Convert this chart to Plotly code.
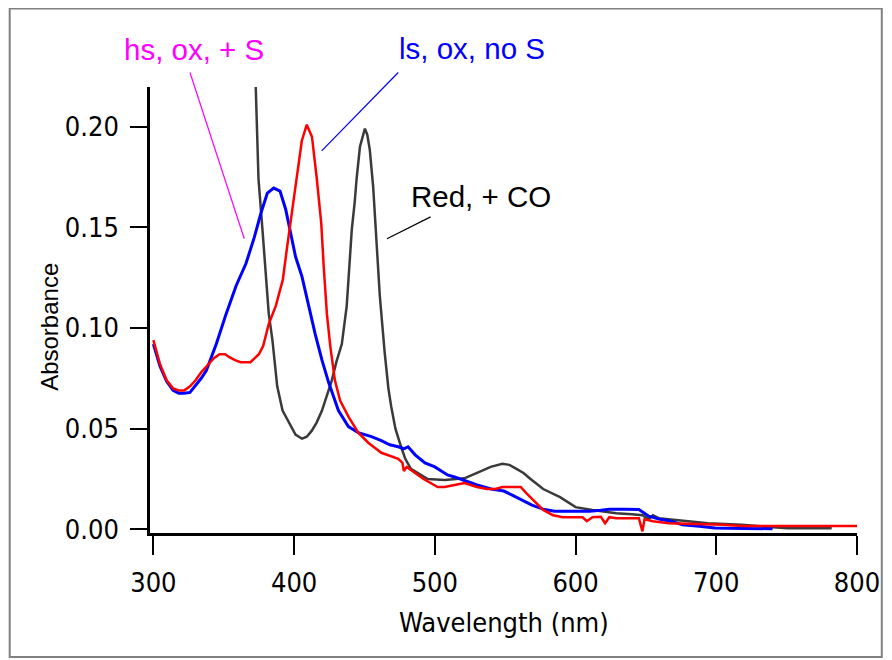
import plotly.graph_objects as go

# ---------------- data ----------------
blue_nm = [300, 304.7, 309.4, 314, 318, 322, 326, 330.6, 334, 337.7, 344.7, 351.7, 358.8,
           365.8, 371.7, 376.4, 381, 385.5, 390, 394, 397.6, 401, 405.6, 410, 415, 419.8,
           424.5, 431.5, 438.6, 445.6, 455, 462, 468, 474, 478, 481, 486, 493, 500, 509,
           514, 522, 530, 540, 549, 555, 561, 569, 577, 585, 600, 610, 618, 624, 635, 645,
           652, 660, 668, 676, 688, 699, 720, 740]
blue_abs = [0.092, 0.081, 0.0735, 0.069, 0.0676, 0.0676, 0.068, 0.0717, 0.075, 0.079, 0.092,
            0.107, 0.121, 0.132, 0.145, 0.157, 0.167, 0.1695, 0.168, 0.159, 0.147, 0.1355,
            0.1255, 0.112, 0.097, 0.084, 0.073, 0.059, 0.051, 0.048, 0.046, 0.044, 0.042,
            0.041, 0.040, 0.041, 0.037, 0.033, 0.031, 0.027, 0.026, 0.024, 0.022, 0.020,
            0.019, 0.017, 0.015, 0.012, 0.010, 0.009, 0.009, 0.009, 0.0095, 0.010, 0.010,
            0.0098, 0.0065, 0.005, 0.004, 0.0022, 0.0015, 0.0006, 0.0004, 0.0003]

red_nm = [300, 304.7, 309.4, 314, 318, 322, 326, 330, 334, 338, 343, 347, 351, 354, 358, 362,
          366, 369, 372, 375, 378, 382, 387, 392, 395, 398.5, 402, 405.5, 409, 412.7, 416,
          419.3, 421, 423.3, 425.7, 429, 432.7, 438.6, 445.6, 452.7, 462, 474, 477, 478, 480,
          486, 492, 497, 502, 507, 513, 521, 530, 537, 543, 548, 554, 561, 565, 568, 572,
          577, 584, 591, 600, 605, 608, 612, 618, 621, 624, 629, 645, 647.5, 649, 655, 666,
          680, 695, 705, 718, 750, 780, 800]
red_abs = [0.094, 0.082, 0.074, 0.070, 0.069, 0.069, 0.071, 0.074, 0.078, 0.081, 0.085, 0.087,
           0.087, 0.0855, 0.084, 0.083, 0.083, 0.083, 0.085, 0.087, 0.091, 0.102, 0.111, 0.124,
           0.140, 0.157, 0.174, 0.193, 0.201, 0.195, 0.175, 0.152, 0.131, 0.107, 0.091, 0.074,
           0.064, 0.056, 0.048, 0.043, 0.038, 0.035, 0.033, 0.029, 0.031, 0.028, 0.025, 0.023,
           0.021, 0.021, 0.022, 0.023, 0.021, 0.020, 0.020, 0.021, 0.021, 0.021, 0.018, 0.016,
           0.013, 0.0096, 0.007, 0.006, 0.006, 0.006, 0.004, 0.006, 0.0062, 0.003, 0.006,
           0.0055, 0.0055, -0.001, 0.005, 0.004, 0.003, 0.0028, 0.0027, 0.0022, 0.0016,
           0.0016, 0.0016, 0.0016]

black_nm = [368, 371, 373, 374.7, 377.5, 380, 382, 384.6, 388, 391.8, 394, 397.6, 401, 405.6,
            409, 412.6, 416, 419.8, 423, 426.8, 430, 433.9, 437.4, 439, 441, 443, 444.4, 446.8,
            450.3, 452, 453.8, 456.2, 458.5, 460.9, 464.4, 467, 469, 472, 476, 479, 483, 488,
            495, 507, 515, 521, 530, 539.7, 548, 553, 558, 563, 568, 577, 589, 600, 612, 629,
            640, 647.6, 652, 655, 659, 671, 694, 718, 730, 750.7, 782]
black_abs = [0.33, 0.26, 0.22, 0.174, 0.149, 0.127, 0.107, 0.094, 0.071, 0.059, 0.056, 0.051,
             0.047, 0.045, 0.046, 0.049, 0.053, 0.059, 0.066, 0.074, 0.083, 0.092, 0.111, 0.128,
             0.149, 0.162, 0.174, 0.190, 0.199, 0.196, 0.1885, 0.170, 0.144, 0.116, 0.0875,
             0.070, 0.061, 0.050, 0.041, 0.035, 0.030, 0.028, 0.025, 0.0245, 0.025, 0.0253,
             0.028, 0.031, 0.0325, 0.032, 0.030, 0.028, 0.025, 0.020, 0.016, 0.011, 0.0096,
             0.008, 0.0075, 0.007, 0.005, 0.007, 0.0055, 0.0047, 0.003, 0.0022, 0.0015,
             0.0005, 0.0005]

x_ticks = [300, 400, 500, 600, 700, 800]
y_ticks = [0.00, 0.05, 0.10, 0.15, 0.20]

labels = ["hs, ox, + S", "ls, ox, no S", "Red, + CO"]
label_colors = ["#ff00ff", "#0000ff", "#000000"]
# label anchor positions (nm, absorbance)
label_pos = [(329, 0.2382), (526.5, 0.2387), (532.5, 0.1652)]
# leader lines (nm, absorbance) start -> end
leaders = [((326, 0.2269), (364.6, 0.1443)),
           ((474, 0.2269), (419.6, 0.1880)),
           ((497, 0.1552), (466, 0.1443))]

# ---------------- layout geometry ----------------
OFF = 8                      # page body margin added by the browser
W, H = 884, 652
L, R, T, B = 150 - OFF, 863 - OFF, 87 - OFF, 533 - OFF
X_RANGE = [297.6, 800]
Y_RANGE = [-0.00184, 0.2197]


def to_paper(x, y):
    px = (x - X_RANGE[0]) / (X_RANGE[1] - X_RANGE[0])
    py = (y - Y_RANGE[0]) / (Y_RANGE[1] - Y_RANGE[0])
    return px, py


def pix_paper(px, py):
    px -= OFF
    py -= OFF
    return (px - L) / (R - L), (B - py) / (B - T)


fig = go.Figure()
fig.add_trace(go.Scatter(x=black_nm, y=black_abs, mode="lines",
                         line=dict(color="#3a3a3a", width=2.5), name="Red, + CO"))
fig.add_trace(go.Scatter(x=blue_nm, y=blue_abs, mode="lines",
                         line=dict(color="#0000ff", width=3), name="ls, ox, no S"))
fig.add_trace(go.Scatter(x=red_nm, y=red_abs, mode="lines",
                         line=dict(color="#ff0000", width=2.5), name="hs, ox, + S"))

tick_font = dict(family="DejaVu Sans Condensed, DejaVu Sans", size=27, color="black")

fig.update_layout(
    width=W, height=H,
    margin=dict(l=L, r=W - R, t=T, b=H - B, pad=0),
    paper_bgcolor="white", plot_bgcolor="white",
    showlegend=False,
    xaxis=dict(range=X_RANGE, tickvals=x_ticks, ticktext=[str(v) for v in x_ticks],
               ticks="outside", ticklen=19, tickwidth=2, tickcolor="black",
               showline=True, linecolor="black", linewidth=2.5, showgrid=False,
               zeroline=False, tickfont=tick_font, ticklabelstandoff=5),
    yaxis=dict(range=Y_RANGE, tickvals=y_ticks, tickformat=".2f",
               ticks="outside", ticklen=17, tickwidth=2, tickcolor="black",
               showline=True, linecolor="black", linewidth=2.5, showgrid=False,
               zeroline=False, tickfont=tick_font, ticklabelstandoff=6),
)

shapes = []
# outer frame
fx0, fy0 = pix_paper(OFF + 0.5, 657)
fx1, fy1 = pix_paper(888, OFF + 0.5)
shapes.append(dict(type="rect", xref="paper", yref="paper", x0=fx0, y0=fy0, x1=fx1, y1=fy1,
                   line=dict(color="#808080", width=2), fillcolor="rgba(0,0,0,0)", layer="below"))
for (p0, p1), c in zip(leaders, label_colors):
    a = to_paper(*p0)
    b = to_paper(*p1)
    shapes.append(dict(type="line", xref="paper", yref="paper", x0=a[0], y0=a[1],
                       x1=b[0], y1=b[1], line=dict(color=c, width=1.2)))
fig.update_layout(shapes=shapes)

annots = []
for txt, c, (xx, yy) in zip(labels, label_colors, label_pos):
    px_, py_ = to_paper(xx, yy)
    annots.append(dict(x=px_, y=py_, xref="paper", yref="paper", text=txt, showarrow=False,
                       font=dict(family="Liberation Sans, Arial", size=29.5, color=c),
                       xanchor="center", yanchor="middle"))
ax_x, ax_y = pix_paper(48, 327)
annots.append(dict(x=ax_x, y=ax_y, xref="paper", yref="paper", text="Absorbance",
                   textangle=-90, showarrow=False,
                   font=dict(family="Liberation Sans, Arial", size=24, color="black"),
                   xanchor="center", yanchor="middle"))
wx, wy = pix_paper(506.5, 622)
annots.append(dict(x=wx, y=wy, xref="paper", yref="paper", text="Wavelength (nm)",
                   showarrow=False,
                   font=dict(family="DejaVu Sans Condensed, DejaVu Sans", size=27, color="black"),
                   xanchor="center", yanchor="middle"))
fig.update_layout(annotations=annots)

fig.write_html("out.html")
